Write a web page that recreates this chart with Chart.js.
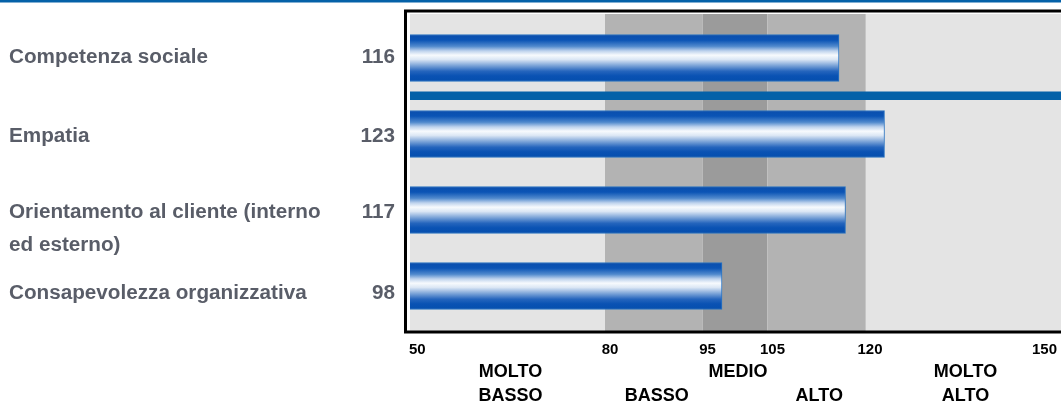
<!DOCTYPE html>
<html>
<head>
<meta charset="utf-8">
<script src="https://cdn.jsdelivr.net/npm/chart.js@4"></script>
<style>
  html, body { margin: 0; padding: 0; background: #ffffff; }
  canvas { display: block; }
</style>
</head>
<body>
<canvas id="chart" width="1061" height="404"></canvas>
<script>
// Competence scores per dimension
const categories = [
  ["Competenza sociale"],
  ["Empatia"],
  ["Orientamento al cliente (interno", "ed esterno)"],
  ["Consapevolezza organizzativa"]
];
const scores = [116, 123, 117, 98];

// Score scale: tick values and the rating zones they delimit
const tickValues = [50, 80, 95, 105, 120, 150];
const zoneBounds = [50, 80, 95, 105, 120, 150];
const zoneLabels = [
  ["MOLTO", "BASSO"],
  ["", "BASSO"],
  ["MEDIO", ""],
  ["", "ALTO"],
  ["MOLTO", "ALTO"]
];

// Styling
const FONT = "'Liberation Sans', Arial, Helvetica, sans-serif";
const ZONE_COLORS = ["#e4e4e4", "#b3b3b3", "#9b9b9b", "#b3b3b3", "#e4e4e4"];
const BLUE = "#0461a8";
const LABEL_GREY = "#595d68";
const BAR_H = 47;
const LABEL_NUDGE = [-3, 0, 0, 5];
const LINE_GAP = 33;

// Cylinder-like vertical gradient for each bar
function barFill(context) {
  const chart = context.chart;
  const yScale = chart.scales.y;
  if (!chart.chartArea || !yScale || context.dataIndex === undefined) return "#0a52b2";
  const c = yScale.getPixelForValue(context.dataIndex);
  const h = BAR_H / 2;
  const g = chart.ctx.createLinearGradient(0, c - h, 0, c + h);
  g.addColorStop(0.00, "#0a4ead");
  g.addColorStop(0.12, "#0b54b5");
  g.addColorStop(0.25, "#5089cd");
  g.addColorStop(0.35, "#bfd3ed");
  g.addColorStop(0.44, "#f7fafd");
  g.addColorStop(0.53, "#dce7f5");
  g.addColorStop(0.65, "#83a9da");
  g.addColorStop(0.78, "#2565bd");
  g.addColorStop(0.88, "#0a52b3");
  g.addColorStop(1.00, "#054fae");
  return g;
}

// Background zones, frame and the separator under the first row
const backdrop = {
  id: "backdrop",
  beforeDatasetsDraw(chart) {
    const { ctx, chartArea, scales } = chart;
    const x = scales.x, y = scales.y;
    const W = chart.width;
    const top = chartArea.top - 6;
    const bottom = chartArea.bottom + 7;
    ctx.save();
    // top rule across the page
    ctx.fillStyle = BLUE;
    ctx.fillRect(0, 0, W, 2.5);
    // rating zones
    for (let i = 0; i < ZONE_COLORS.length; i++) {
      const x0 = x.getPixelForValue(zoneBounds[i]);
      const x1 = i === ZONE_COLORS.length - 1 ? W : x.getPixelForValue(zoneBounds[i + 1]);
      ctx.fillStyle = ZONE_COLORS[i];
      ctx.fillRect(x0, top, x1 - x0, bottom - top);
    }
    // faint edge at the upper zone boundary
    ctx.fillStyle = "#c6c6c6";
    ctx.fillRect(Math.round(x.getPixelForValue(120)), top, 1, bottom - top);
    // frame
    ctx.strokeStyle = "#000000";
    ctx.lineWidth = 3;
    ctx.beginPath();
    ctx.moveTo(W + 2, top - 3);
    ctx.lineTo(chartArea.left - 4.5, top - 3);
    ctx.lineTo(chartArea.left - 4.5, bottom + 1);
    ctx.lineTo(W + 2, bottom + 1);
    ctx.stroke();
    // separator between the first and second row
    const sep = (y.getPixelForValue(0) + y.getPixelForValue(1)) / 2;
    ctx.fillStyle = BLUE;
    ctx.fillRect(chartArea.left, sep - 4.5, W - chartArea.left, 8.5);
    ctx.restore();
  },
  afterDraw(chart) {
    const { ctx, chartArea, scales } = chart;
    const x = scales.x, y = scales.y;
    ctx.save();
    // row labels and scores
    ctx.font = "bold 20.7px " + FONT;
    ctx.fillStyle = LABEL_GREY;
    ctx.textBaseline = "alphabetic";
    categories.forEach((lines, i) => {
      const base = y.getPixelForValue(i) + 7.5 + LABEL_NUDGE[i];
      ctx.textAlign = "left";
      lines.forEach((t, k) => ctx.fillText(t, 9, base + k * LINE_GAP));
      ctx.textAlign = "right";
      ctx.fillText(String(scores[i]), 395, base);
    });
    // tick values under the frame
    ctx.fillStyle = "#000000";
    ctx.font = "bold 15px " + FONT;
    ctx.textAlign = "left";
    const tickBase = chartArea.bottom + 29.5;
    tickValues.forEach(v => {
      const t = String(v);
      const w = ctx.measureText(t).width;
      let cx = x.getPixelForValue(v) + 5;
      cx = Math.max(cx, 409 + w / 2);
      cx = Math.min(cx, chart.width - 4 - w / 2);
      ctx.fillText(t, cx - w / 2, tickBase);
    });
    // zone names
    ctx.font = "bold 18px " + FONT;
    ctx.textAlign = "center";
    zoneLabels.forEach((lines, i) => {
      const cx = (x.getPixelForValue(zoneBounds[i]) + x.getPixelForValue(zoneBounds[i + 1])) / 2 + 3;
      lines.forEach((t, k) => {
        if (t) ctx.fillText(t, cx, chartArea.bottom + 53 + k * 24);
      });
    });
    ctx.restore();
  }
};

new Chart(document.getElementById("chart"), {
  type: "bar",
  data: {
    labels: categories.map(l => l.join(" ")),
    datasets: [{
      data: scores,
      backgroundColor: barFill,
      borderColor: "#2a74c2",
      borderWidth: 1,
      borderSkipped: false,
      barThickness: BAR_H
    }]
  },
  options: {
    indexAxis: "y",
    responsive: false,
    animation: false,
    layout: { padding: { left: 410, right: 1, top: 20, bottom: 80 } },
    scales: {
      x: { display: false, min: 50, max: 150 },
      y: { display: false }
    },
    plugins: {
      legend: { display: false },
      tooltip: { enabled: false }
    }
  },
  plugins: [backdrop]
});
</script>
</body>
</html>
